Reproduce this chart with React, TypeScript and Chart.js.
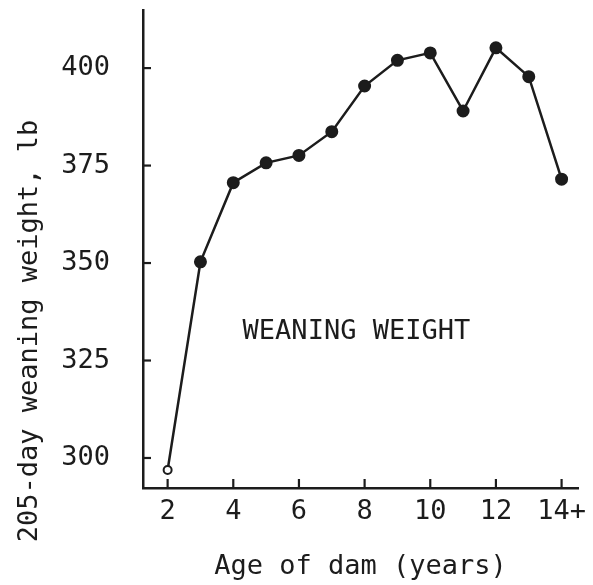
import React, { useEffect, useRef } from "react";
import { Chart, registerables } from "chart.js";

Chart.register(...registerables);

const ages = [2, 3, 4, 5, 6, 7, 8, 9, 10, 11, 12, 13, 14];
const weights = [296.9, 350.3, 370.6, 375.7, 377.6, 383.7, 395.4, 402, 403.9, 389, 405.2, 397.8, 371.5];
const xTicks = [2, 4, 6, 8, 10, 12, 14];
const xTickLabels = ["2", "4", "6", "8", "10", "12", "14+"];
const yTicks = [300, 325, 350, 375, 400];
const yTitle = "205-day weaning weight, lb";
const xTitle = "Age of dam (years)";
const annotationText = "WEANING WEIGHT";

const FONT = "'DejaVu Sans Mono', 'Liberation Mono', monospace";
const INK = "#1c1c1c";

const decorPlugin = {
  id: "decor",
  afterDraw(chart: any) {
    const { ctx, scales, chartArea } = chart;
    const x = scales.x;
    const y = scales.y;
    ctx.save();
    ctx.strokeStyle = INK;
    ctx.lineWidth = 2.2;
    // inward tick marks
    yTicks.forEach((v) => {
      const py = y.getPixelForValue(v);
      ctx.beginPath();
      ctx.moveTo(chartArea.left, py);
      ctx.lineTo(chartArea.left + 8, py);
      ctx.stroke();
    });
    xTicks.forEach((v) => {
      const px = x.getPixelForValue(v);
      ctx.beginPath();
      ctx.moveTo(px, chartArea.bottom);
      ctx.lineTo(px, chartArea.bottom - 9);
      ctx.stroke();
    });
    // y title
    ctx.fillStyle = INK;
    ctx.font = `27px ${FONT}`;
    ctx.textAlign = "center";
    ctx.textBaseline = "middle";
    ctx.save();
    ctx.translate(30, 331);
    ctx.rotate(-Math.PI / 2);
    ctx.fillText(yTitle, 0, 0);
    ctx.restore();
    // annotation
    ctx.fillText(annotationText, x.getPixelForValue(7.75), y.getPixelForValue(332.2));
    ctx.restore();
  },
};

export default function App() {
  const ref = useRef<HTMLCanvasElement>(null);
  useEffect(() => {
    if (!ref.current) return;
    const chart = new Chart(ref.current, {
      type: "line",
      data: {
        datasets: [
          {
            data: ages.map((a, i) => ({ x: a, y: weights[i] })),
            borderColor: INK,
            borderWidth: 2.5,
            pointRadius: ages.map((_, i) => (i === 0 ? 4 : 5.5)),
            pointBackgroundColor: ages.map((_, i) => (i === 0 ? "#ffffff" : INK)),
            pointBorderColor: INK,
            pointBorderWidth: 2,
            tension: 0,
          },
        ],
      },
      options: {
        animation: false,
        responsive: true,
        maintainAspectRatio: false,
        layout: { padding: { left: 0, top: 10, right: 15, bottom: 0 } },
        plugins: { legend: { display: false }, tooltip: { enabled: false } },
        scales: {
          x: {
            type: "linear",
            min: 1.25,
            max: 14.5,
            afterBuildTicks: (s: any) => {
              s.ticks = xTicks.map((v) => ({ value: v }));
            },
            afterFit: (s: any) => {
              s.height = 97;
              s.paddingLeft = 0;
              s.paddingRight = 0;
            },
            grid: { display: false, drawTicks: false },
            border: { display: true, color: INK, width: 2.5 },
            ticks: {
              color: INK,
              font: { family: FONT, size: 27 },
              padding: 8,
              maxRotation: 0,
              autoSkip: false,
              callback: (v: any) => {
                const i = xTicks.indexOf(Number(v));
                return i >= 0 ? xTickLabels[i] : "";
              },
            },
            title: {
              display: true,
              text: xTitle,
              color: INK,
              font: { family: FONT, size: 27 },
              padding: { top: 0, bottom: 2 },
            },
          },
          y: {
            type: "linear",
            min: 292.3,
            max: 414.9,
            afterBuildTicks: (s: any) => {
              s.ticks = yTicks.map((v) => ({ value: v }));
            },
            afterFit: (s: any) => {
              s.width = 143;
              s.paddingTop = 0;
              s.paddingBottom = 0;
            },
            grid: { display: false, drawTicks: false },
            border: { display: true, color: INK, width: 2.5 },
            ticks: {
              color: INK,
              font: { family: FONT, size: 27 },
              padding: 33,
            },
          },
        },
      },
      plugins: [decorPlugin],
    });
    return () => chart.destroy();
  }, []);
  return (
    <div style={{ position: "absolute", left: 0, top: 0, width: 593, height: 585, background: "#fff" }}>
      <canvas ref={ref} />
    </div>
  );
}
